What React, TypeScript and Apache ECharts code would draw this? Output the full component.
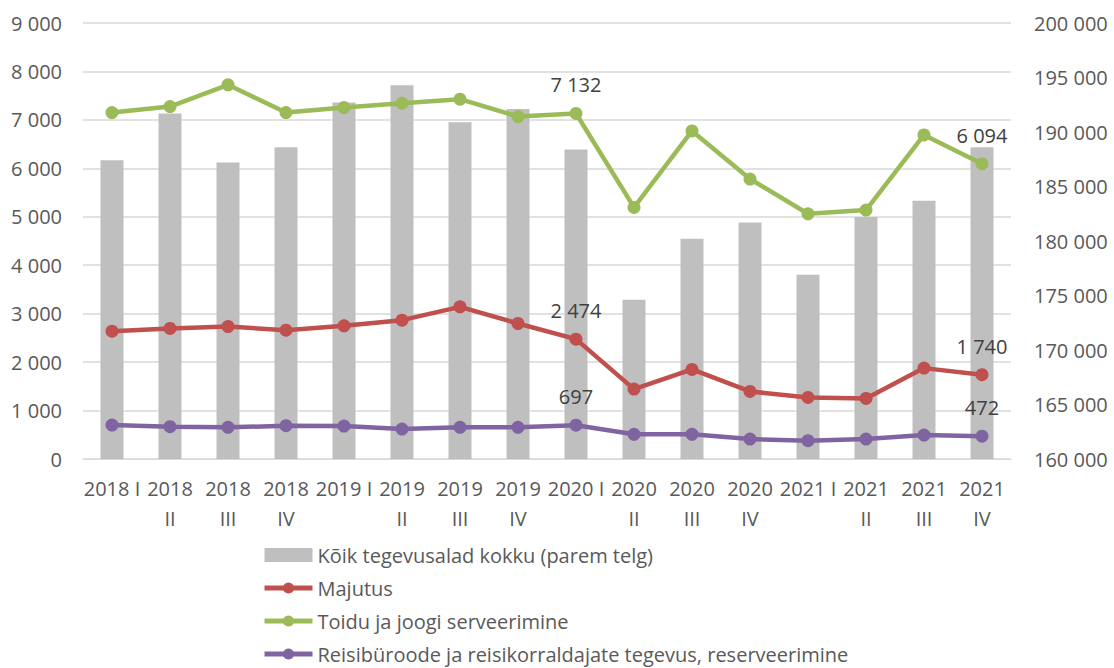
import React, { useEffect, useRef } from "react";
import * as echarts from "echarts";

const categories = [
  "2018 I", "2018 II", "2018 III", "2018 IV",
  "2019 I", "2019 II", "2019 III", "2019 IV",
  "2020 I", "2020 II", "2020 III", "2020 IV",
  "2021 I", "2021 II", "2021 III", "2021 IV",
];

const totalAll = [
  187400, 191700, 187200, 188600, 192700, 194300, 190900, 192100,
  188400, 174600, 180200, 181700, 176900, 182200, 183700, 188600,
];

const majutus = [
  2639, 2694, 2735, 2660, 2749, 2866, 3141, 2797,
  2474, 1443, 1849, 1395, 1271, 1251, 1876, 1740,
];

const toit = [
  7152, 7276, 7724, 7152, 7255, 7345, 7428, 7069,
  7132, 5193, 6772, 5779, 5062, 5138, 6690, 6094,
];

const reisi = [
  701, 667, 653, 687, 680, 619, 653, 653,
  697, 509, 509, 412, 378, 412, 495, 472,
];

const labeledIndices = [8, 15];

const leftTicks = { min: 0, max: 9000, interval: 1000 };
const rightTicks = { min: 160000, max: 200000, interval: 5000 };

const FONT = "'Open Sans', 'Noto Sans', sans-serif";

function fmt(n: number): string {
  return String(n).replace(/\B(?=(\d{3})+(?!\d))/g, " ");
}

function withLabels(values: number[]) {
  return values.map((v, i) => ({
    value: v,
    label: { show: labeledIndices.includes(i) },
  }));
}

export default function App() {
  const ref = useRef<HTMLDivElement>(null);

  useEffect(() => {
    if (!ref.current) return;
    const chart = echarts.init(ref.current, undefined, { renderer: "svg" });

    const lineLabel = {
      show: false,
      position: "top" as const,
      distance: 12,
      color: "#404040",
      fontSize: 20,
      fontFamily: FONT,
      formatter: (p: any) => fmt(p.value),
    };

    const lineSeries = (name: string, color: string, values: number[]) => ({
      name,
      type: "line",
      yAxisIndex: 0,
      data: withLabels(values),
      symbol: "circle",
      symbolSize: 13,
      lineStyle: { color, width: 4.5 },
      itemStyle: { color },
      label: lineLabel,
      z: 3,
    });

    chart.setOption({
      animation: false,
      backgroundColor: "#ffffff",
      textStyle: { fontFamily: FONT },
      grid: {
        left: 83,
        right: 103,
        top: 23,
        bottom: 209,
        containLabel: false,
        outerBoundsMode: "none",
      },
      legend: {
        orient: "vertical",
        left: 262,
        top: 545,
        padding: 0,
        itemWidth: 48,
        itemHeight: 14,
        itemGap: 13,
        textStyle: { color: "#595959", fontSize: 20, fontFamily: FONT, lineHeight: 20 },
        data: [
          { name: "Kõik tegevusalad kokku (parem telg)", icon: "rect", itemStyle: { color: "#BFBFBF" } },
          { name: "Majutus", lineStyle: { width: 5 } },
          { name: "Toidu ja joogi serveerimine", lineStyle: { width: 5 } },
          { name: "Reisibüroode ja reisikorraldajate tegevus, reserveerimine", lineStyle: { width: 5 } },
        ],
      },
      xAxis: {
        type: "category",
        data: categories,
        boundaryGap: true,
        axisLine: { show: true, lineStyle: { color: "#D9D9D9", width: 1 } },
        axisTick: { show: false },
        axisLabel: {
          interval: 0,
          margin: 14,
          color: "#595959",
          fontSize: 20,
          fontFamily: FONT,
          lineHeight: 30,
          formatter: (v: string) => (v.endsWith(" I") ? v : v.replace(" ", "\n")),
        },
      },
      yAxis: [
        {
          type: "value",
          min: leftTicks.min,
          max: leftTicks.max,
          interval: leftTicks.interval,
          axisLine: { show: false },
          axisTick: { show: false },
          splitLine: { show: true, lineStyle: { color: "#D9D9D9", width: 1.5 } },
          axisLabel: {
            margin: 21,
            color: "#595959",
            fontSize: 20,
            fontFamily: FONT,
            formatter: (v: number) => fmt(v),
          },
        },
        {
          type: "value",
          position: "right",
          min: rightTicks.min,
          max: rightTicks.max,
          interval: rightTicks.interval,
          axisLine: { show: false },
          axisTick: { show: false },
          splitLine: { show: false },
          axisLabel: {
            margin: 23,
            color: "#595959",
            fontSize: 20,
            fontFamily: FONT,
            formatter: (v: number) => fmt(v),
          },
        },
      ],
      series: [
        {
          name: "Kõik tegevusalad kokku (parem telg)",
          type: "bar",
          yAxisIndex: 1,
          data: totalAll,
          barWidth: 23,
          itemStyle: { color: "#BFBFBF" },
          z: 1,
        },
        lineSeries("Majutus", "#C0504D", majutus),
        lineSeries("Toidu ja joogi serveerimine", "#9BBB59", toit),
        lineSeries("Reisibüroode ja reisikorraldajate tegevus, reserveerimine", "#8064A2", reisi),
      ],
    });

    return () => {
      chart.dispose();
    };
  }, []);

  return (
    <div
      ref={ref}
      style={{ position: "fixed", left: 0, top: 0, width: 1114, height: 668, background: "#fff" }}
    />
  );
}
